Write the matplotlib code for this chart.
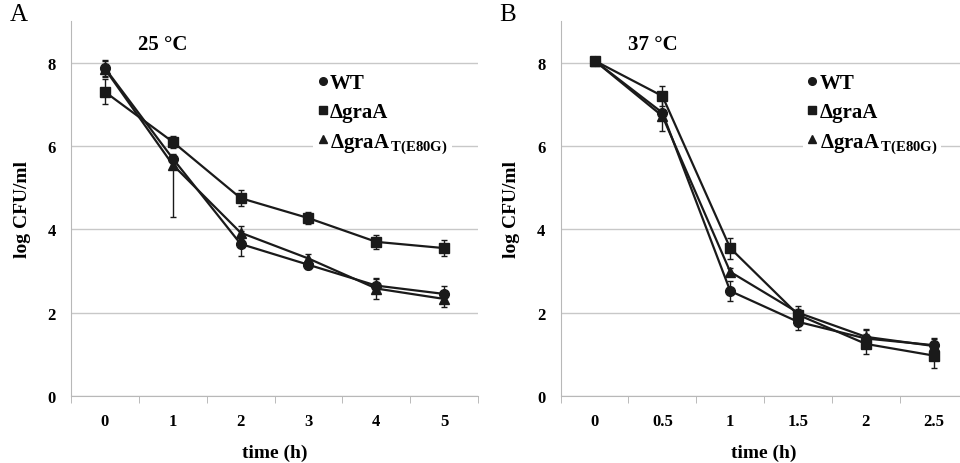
import matplotlib
matplotlib.use('Agg')
import matplotlib.pyplot as plt
from matplotlib.lines import Line2D
import numpy as np

plt.rcParams['font.family'] = ['Liberation Serif', 'DejaVu Serif']
plt.rcParams['mathtext.default'] = 'regular'

series_names = ['WT', 'ΔgraA', 'ΔgraA$_{\\,T(E80G)}$']
markers = ['o', 's', '^']

# panel A, 25 °C
time_a = ['0', '1', '2', '3', '4', '5']
wt_a = [7.87, 5.70, 3.65, 3.15, 2.65, 2.45]
wt_a_err = [0.20, 0.10, 0.30, 0.10, 0.15, 0.20]
gra_a = [7.30, 6.10, 4.75, 4.27, 3.70, 3.55]
gra_a_err = [0.30, 0.15, 0.20, 0.15, 0.17, 0.20]
mut_a = [7.85, 5.55, 3.92, 3.30, 2.58, 2.33]
mut_a_lo = [0.20, 1.25, 0.15, 0.12, 0.25, 0.20]
mut_a_hi = [0.20, 0.15, 0.15, 0.12, 0.25, 0.20]

# panel B, 37 °C
time_b = ['0', '0.5', '1', '1.5', '2', '2.5']
wt_b = [8.05, 6.80, 2.52, 1.78, 1.38, 1.22]
wt_b_err = [0.05, 0.45, 0.25, 0.20, 0.20, 0.15]
gra_b = [8.05, 7.20, 3.55, 1.95, 1.25, 0.97]
gra_b_err = [0.05, 0.25, 0.25, 0.15, 0.25, 0.30]
mut_b = [8.05, 6.72, 2.98, 2.00, 1.42, 1.20]
mut_b_err = [0.05, 0.10, 0.10, 0.15, 0.20, 0.20]

fig = plt.figure(figsize=(9.6, 4.64), dpi=100)
ax_a = fig.add_axes([0.074, 0.1444, 0.424, 0.808])
ax_b = fig.add_axes([0.584, 0.1444, 0.424, 0.808])


def draw_panel(ax, labels, data, temp, letter, leg_x):
    x = np.arange(len(labels))
    for (vals, errs), m in zip(data, markers):
        ax.errorbar(x, vals, yerr=errs, color='#1a1a1a', lw=1.6, marker=m,
                    ms=7, ecolor='#1a1a1a', elinewidth=1, capsize=2, zorder=3)
    ax.set_xlim(-0.5, len(labels) - 0.5)
    ax.set_ylim(0, 9)
    ax.set_yticks([0, 2, 4, 6, 8])
    ax.set_xticks(x)
    ax.set_xticklabels(labels)
    ax.set_xticks(np.arange(len(labels) + 1) - 0.5, minor=True)
    ax.tick_params(axis='x', which='major', length=0, pad=12, labelsize=12)
    ax.tick_params(axis='x', which='minor', length=5, color='#b0b0b0', direction='out')
    ax.tick_params(axis='y', length=0, pad=11, labelsize=12)
    for t in ax.get_xticklabels() + ax.get_yticklabels():
        t.set_fontweight('bold')
    ax.grid(axis='y', color='#c8c8c8', lw=1)
    ax.set_axisbelow(True)
    for s in ['top', 'right']:
        ax.spines[s].set_visible(False)
    for s in ['left', 'bottom']:
        ax.spines[s].set_color('#b8b8b8')
    ax.set_xlabel('time (h)', fontsize=14, fontweight='bold', labelpad=11)
    ax.set_ylabel('log CFU/ml', fontsize=14, fontweight='bold', labelpad=12)
    ax.text(0.165, 0.965, temp, transform=ax.transAxes, fontsize=15,
            fontweight='bold', va='top')
    ax.text(-0.15, 1.02, letter, transform=ax.transAxes, fontsize=18, va='center')
    handles = [Line2D([], [], color='#1a1a1a', marker=m, ls='none', ms=5.5)
               for m in markers]
    leg = ax.legend(handles, series_names, loc='upper left',
                    bbox_to_anchor=(leg_x, 0.9), frameon=True, framealpha=1,
                    edgecolor='none', fancybox=False, handlelength=0.5,
                    handletextpad=0.1, labelspacing=0.42, borderpad=0.2,
                    prop={'weight': 'bold', 'size': 15})
    leg.set_zorder(5)


draw_panel(ax_a, time_a, [(wt_a, wt_a_err), (gra_a, gra_a_err),
                          (mut_a, [mut_a_lo, mut_a_hi])],
           '25 °C', 'A', 0.57)
draw_panel(ax_b, time_b, [(wt_b, wt_b_err), (gra_b, gra_b_err), (mut_b, mut_b_err)],
           '37 °C', 'B', 0.57)

fig.savefig('out.png', dpi=100)
